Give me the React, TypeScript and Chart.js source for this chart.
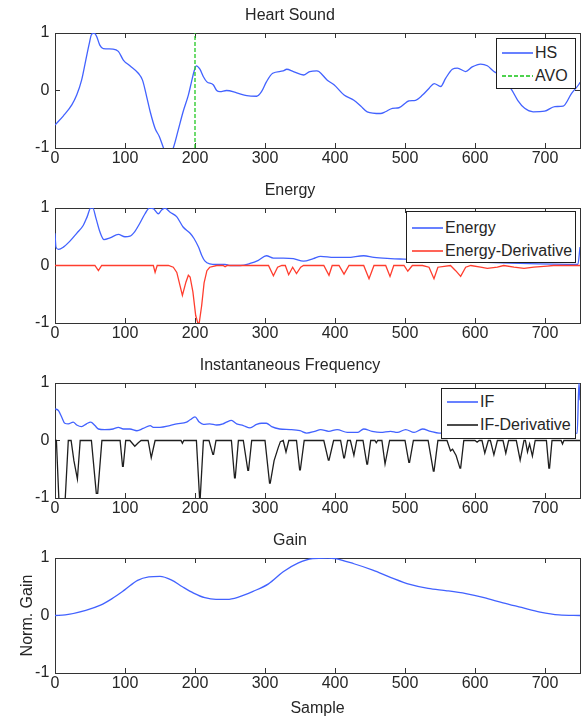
import React, { useEffect, useRef } from "react";
import { Chart, registerables } from "chart.js";

Chart.register(...registerables);

const FONT = "'Liberation Sans', Arial, Helvetica, sans-serif";
const TEXT = "#262626";
const AXIS = "#333333";
const BLUE = "#4262ff";
const RED = "#ff3d2e";
const GREEN = "#22c822";
const BLACK = "#1e1e1e";

Chart.defaults.font.family = FONT;
Chart.defaults.color = TEXT;

const xTickValues = [0, 100, 200, 300, 400, 500, 600, 700];
const yTickValues = [-1, 0, 1];
const xMin = 0;
const xMax = 750;
const yMin = -1;
const yMax = 1;

const panelTitles = ["Heart Sound", "Energy", "Instantaneous Frequency", "Gain"];
const seriesLabels = ["HS", "AVO", "Energy", "Energy-Derivative", "IF", "IF-Derivative", "Gain"];
const xAxisTitle = "Sample";
const yAxisTitle = "Norm. Gain";

const hsPoints: number[][] = [
  [0, -0.6], [12, -0.44], [24, -0.25], [31, -0.08], [38, 0.18], [44, 0.53], [49, 0.82], [52, 0.97],
  [56, 1.0], [59.5, 0.94], [64, 0.79], [69, 0.73], [83, 0.72], [90.5, 0.68], [97.6, 0.53], [107, 0.43],
  [119, 0.3], [125, 0.18], [131, -0.11], [136, -0.37], [143, -0.66], [149, -0.8], [155, -1.0],
  [158, -1.08], [162, -1.12], [166, -1.08], [169, -1.0], [176, -0.69], [183, -0.37], [190.5, -0.08],
  [195, 0.15], [198.6, 0.33], [202, 0.43], [207, 0.37], [212, 0.24], [217, 0.15], [226, 0.1],
  [231, 0.0], [235.7, -0.02], [245, 0.0], [259.5, -0.04], [274, -0.09], [288, -0.1], [295, -0.02],
  [302, 0.15], [311, 0.3], [326, 0.34], [331, 0.37], [340.5, 0.33], [355, 0.27], [364, 0.33],
  [374, 0.34], [377, 0.33], [389, 0.18], [398.6, 0.1], [413, -0.08], [427, -0.17], [436.7, -0.27],
  [446, -0.37], [465, -0.4], [472, -0.37], [482, -0.31], [491.4, -0.3], [505.7, -0.18], [515, -0.17],
  [525, -0.08], [534.5, 0.04], [541.7, 0.12], [551, 0.07], [558, 0.21], [567.6, 0.37], [574.8, 0.39],
  [586.6, 0.33], [596, 0.41], [608, 0.46], [617.6, 0.43], [627, 0.33], [635, 0.27], [645, 0.12],
  [652, 0.02], [661, -0.17], [671, -0.31], [683, -0.37], [699.5, -0.36], [714, -0.28], [726, -0.27],
  [738, -0.05], [748, 0.1], [750, 0.14],
];

const avoPoints: number[][] = [
  [200, -1], [200, 1],
];

const energyPoints: number[][] = [
  [0, 0.56], [1.4, 0.32], [5, 0.28], [12, 0.32], [21, 0.42], [31, 0.56], [40.5, 0.7], [46, 0.85],
  [51, 1.0], [54, 1.0], [58.6, 0.82], [64, 0.59], [70, 0.45], [78.6, 0.48], [90.5, 0.54], [100, 0.5],
  [107, 0.51], [114, 0.59], [121, 0.73], [128.6, 0.9], [134.8, 1.0], [140.5, 0.99], [147.6, 0.9],
  [152, 0.96], [157, 1.0], [164, 0.93], [173.8, 0.85], [183, 0.67], [193, 0.56], [198.6, 0.47],
  [205, 0.32], [209.5, 0.18], [214, 0.08], [221, 0.03], [231, 0.02], [243, 0.02], [250, 0.0],
  [265, 0.0], [278.6, 0.035], [290.5, 0.09], [302, 0.17], [312, 0.13], [326, 0.13], [340.5, 0.12],
  [355, 0.075], [369, 0.12], [379.5, 0.16], [398.6, 0.14], [417.6, 0.14], [441, 0.17], [455.7, 0.14],
  [479.5, 0.12], [498.6, 0.11], [560, 0.08], [650, 0.04], [740, 0.02], [747, 0.02], [750, 0.32],
];

const energyDerivPoints: number[][] = [
  [0, 0], [57, 0], [62, -0.09], [66.7, 0], [140.5, 0], [143, -0.12], [146, 0], [162, 0], [169, -0.03],
  [174, -0.12], [178.6, -0.35], [182, -0.52], [187, -0.29], [190.5, -0.17], [193, -0.2], [197, -0.46],
  [201, -0.87], [204, -1.0], [206, -1.0], [209.5, -0.7], [213, -0.3], [217, -0.09], [221, -0.03],
  [231, 0], [240, 0], [243, -0.02], [246, 0], [305, 0], [312, -0.18], [318, -0.03], [324, 0], [329, 0],
  [333.8, -0.16], [339.5, -0.03], [345, -0.14], [351, -0.03], [355, 0], [384, 0], [391.4, -0.17],
  [396, 0], [405.7, 0], [412.9, -0.15], [420, 0], [441, 0], [448.6, -0.23], [455.7, 0], [472.4, 0],
  [478.6, -0.19], [484, 0], [498.6, 0], [504, -0.1], [510.5, 0], [525, 0], [534.3, -0.03],
  [541.4, -0.23], [547, -0.03], [565, 0], [572.4, -0.09], [579.5, -0.19], [586.7, -0.03], [594, 0],
  [608, -0.03], [617.6, -0.05], [631.9, -0.03], [641, 0], [655.7, -0.03], [670, -0.05], [684, -0.03],
  [703, -0.01], [712, 0], [750, 0],
];

const ifPoints: number[][] = [
  [0, 0.55], [5, 0.52], [9.5, 0.41], [14, 0.3], [19, 0.29], [26, 0.32], [31, 0.27], [38, 0.24],
  [45, 0.29], [51, 0.32], [57, 0.26], [62, 0.2], [71, 0.19], [83, 0.2], [90.5, 0.23], [97.6, 0.2],
  [107, 0.2], [117, 0.17], [126, 0.21], [136, 0.26], [140.5, 0.23], [150, 0.23], [164, 0.26],
  [174, 0.29], [188, 0.32], [193, 0.36], [200, 0.41], [206, 0.32], [212, 0.28], [221, 0.29],
  [231, 0.27], [240, 0.29], [245, 0.32], [252, 0.35], [259.5, 0.29], [269, 0.26], [278.6, 0.22],
  [288, 0.28], [295, 0.3], [302, 0.3], [309.5, 0.24], [321, 0.2], [336, 0.19], [350, 0.17],
  [359.5, 0.13], [371, 0.16], [379.5, 0.19], [391, 0.16], [403, 0.19], [417.6, 0.14], [432, 0.14],
  [441, 0.2], [453, 0.16], [465, 0.14], [479.5, 0.16], [489, 0.14], [501, 0.19], [513, 0.14],
  [525, 0.2], [536.6, 0.16], [548.6, 0.13], [600, 0.13], [700, 0.12], [746, 0.13], [748.5, 1.0],
  [750, 0.7],
];

const ifDerivPoints: number[][] = [
  [0, 0], [2, 0], [6, -1.15], [10, -1.25], [14, -1.15], [19, 0], [23, 0], [27, -0.35], [32, -0.67],
  [36, 0], [52, 0], [59, -0.92], [61, -0.92], [67, 0], [93, 0], [96.5, -0.45], [97.5, -0.45], [101, 0],
  [107, 0], [114, -0.1], [119, -0.04], [123, 0], [133, 0], [137.5, -0.3], [138.5, -0.3], [143, 0],
  [180, 0], [182, -0.05], [184, 0], [202, 0], [207, -1.1], [212, 0], [220, 0], [225.5, -0.24],
  [226.5, -0.24], [230, 0], [252, 0], [256.5, -0.65], [257.5, -0.65], [262, 0], [269, 0],
  [275.5, -0.52], [276.5, -0.52], [281, 0], [300, 0], [306.5, -0.74], [307.5, -0.74], [313, -0.35],
  [319, -0.12], [322, -0.02], [326, 0], [330, -0.2], [334, 0], [345, 0], [349.5, -0.51], [350.5, -0.51],
  [356, 0], [384, 0], [390.5, -0.34], [391.5, -0.34], [398, 0], [408, 0], [412.5, -0.3], [413.5, -0.3],
  [418, 0], [422, 0], [427, -0.26], [431, 0], [440, 0], [445.5, -0.41], [446.5, -0.41], [451, 0],
  [457, 0], [459, -0.04], [461, 0], [467, 0], [471.5, -0.41], [472.5, -0.41], [478, 0], [500, 0],
  [505.5, -0.38], [506.5, -0.38], [512, 0], [533, 0], [540.5, -0.53], [541.5, -0.53], [547, 0],
  [560, 0], [565, -0.18], [568, -0.15], [573, -0.26], [578.5, -0.48], [579.5, -0.48], [584, 0],
  [600, 0], [603, -0.03], [606, 0], [610, 0], [614, -0.22], [619, 0], [622, 0], [627, -0.25],
  [632, 0], [640, 0], [644, -0.22], [648, 0], [659, 0], [664.5, -0.34], [665.5, -0.34], [670, 0],
  [672, 0], [675, -0.2], [678, -0.06], [682, -0.27], [686, 0], [702, 0], [705.5, -0.48],
  [706.5, -0.48], [710, 0], [723, 0], [725, -0.06], [727, 0], [750, 0],
];

const gainPoints: number[][] = [
  [0, 0], [14.6, 0.01], [44, 0.09], [65, 0.18], [81, 0.29], [100, 0.45], [118, 0.61], [134, 0.67],
  [150, 0.68], [166, 0.62], [182, 0.5], [198, 0.39], [214, 0.31], [230, 0.28], [246, 0.28], [262, 0.32],
  [283, 0.42], [305, 0.55], [326, 0.76], [347, 0.91], [368, 0.99], [390, 1.0], [400, 0.99], [427, 0.9],
  [454, 0.79], [480, 0.66], [507, 0.54], [533, 0.47], [560, 0.43], [587, 0.38], [613, 0.31], [640, 0.22],
  [666.5, 0.14], [693, 0.06], [720, 0.01], [750, 0],
];

type Series = { label: string; points: number[][]; color: string; dash?: number[]; smooth?: boolean };
type LegendSpec = { left: number; top: number; width: number; height: number; rows: number[] };
type PanelSpec = {
  title: string;
  top: number;
  height: number;
  axisHeight: number;
  series: Series[];
  legend: LegendSpec | null;
  xTitle?: string;
  yTitle?: string;
};

const panels: PanelSpec[] = [
  {
    title: panelTitles[0], top: 0, height: 175, axisHeight: 27,
    series: [
      { label: seriesLabels[0], points: hsPoints, color: BLUE, smooth: true },
      { label: seriesLabels[1], points: avoPoints, color: GREEN, dash: [4, 2] },
    ],
    legend: { left: 496, top: 38, width: 80, height: 51, rows: [14, 37] },
  },
  {
    title: panelTitles[1], top: 175, height: 175, axisHeight: 27,
    series: [
      { label: seriesLabels[2], points: energyPoints, color: BLUE, smooth: true },
      { label: seriesLabels[3], points: energyDerivPoints, color: RED },
    ],
    legend: { left: 406, top: 211, width: 170, height: 52, rows: [16, 39] },
  },
  {
    title: panelTitles[2], top: 350, height: 175, axisHeight: 27,
    series: [
      { label: seriesLabels[4], points: ifPoints, color: BLUE, smooth: true },
      { label: seriesLabels[5], points: ifDerivPoints, color: BLACK },
    ],
    legend: { left: 441, top: 388, width: 135, height: 51, rows: [13, 36] },
  },
  {
    title: panelTitles[3], top: 525, height: 194, axisHeight: 46,
    series: [{ label: seriesLabels[6], points: gainPoints, color: BLUE, smooth: true }],
    legend: null,
    xTitle: xAxisTitle,
    yTitle: yAxisTitle,
  },
];

const tickFont = { family: FONT, size: 16 };

function axisBase(tickVals: number[], min: number, max: number) {
  return {
    type: "linear" as const,
    min,
    max,
    bounds: "data" as const,
    afterBuildTicks: (s: any) => {
      s.ticks = tickVals.map((v) => ({ value: v }));
    },
    grid: { drawOnChartArea: false, drawTicks: true, tickLength: -5, color: AXIS, lineWidth: 1 },
    border: { display: true, color: AXIS, width: 1 },
  };
}

function PlotPanel({ panel }: { panel: PanelSpec }) {
  const ref = useRef<HTMLCanvasElement | null>(null);

  useEffect(() => {
    const canvas = ref.current;
    if (!canvas) return;
    const n = panel.series.length;
    const datasets = panel.series.map((s, i) => ({
      label: s.label,
      data: s.points.map(([x, y]) => ({ x, y })),
      borderColor: s.color,
      backgroundColor: s.color,
      borderWidth: 1.3,
      borderDash: s.dash || [],
      pointRadius: 0,
      pointHoverRadius: 0,
      fill: false,
      tension: 0,
      cubicInterpolationMode: s.smooth ? "monotone" : "default",
      xAxisID: "x",
      yAxisID: "y",
      order: n - i,
    }));

    const chart = new Chart(canvas, {
      type: "line",
      data: { datasets } as any,
      options: {
        responsive: false,
        animation: false,
        events: [],
        layout: { padding: { left: 0, right: 4, top: 0, bottom: 0 } },
        plugins: {
          legend: { display: false },
          tooltip: { enabled: false },
          title: {
            display: true,
            text: panel.title,
            color: TEXT,
            font: { family: FONT, size: 16, weight: "normal" },
            padding: { top: 6, bottom: 7.8 },
          },
        },
        scales: {
          x: {
            ...axisBase(xTickValues, xMin, xMax),
            position: "bottom",
            afterFit: (s: any) => {
              s.height = panel.axisHeight;
            },
            ticks: {
              padding: 6,
              color: TEXT,
              font: tickFont,
              autoSkip: false,
              maxRotation: 0,
              minRotation: 0,
              callback: (v: any) => String(v),
            },
            title: {
              display: !!panel.xTitle,
              text: panel.xTitle || "",
              color: TEXT,
              font: { family: FONT, size: 16 },
              padding: { top: 0, bottom: 0.4 },
            },
          },
          x2: {
            ...axisBase(xTickValues, xMin, xMax),
            position: "top",
            afterFit: (s: any) => {
              s.height = 0;
            },
            ticks: { display: false },
          },
          y: {
            ...axisBase(yTickValues, yMin, yMax),
            position: "left",
            afterFit: (s: any) => {
              s.width = 55;
            },
            ticks: {
              padding: 10.7,
              color: TEXT,
              font: tickFont,
              callback: (v: any) => String(v),
            },
            title: {
              display: !!panel.yTitle,
              text: panel.yTitle || "",
              color: TEXT,
              font: { family: FONT, size: 16 },
              padding: { top: 18.4, bottom: 0 },
            },
          },
          y2: {
            ...axisBase(yTickValues, yMin, yMax),
            position: "right",
            afterFit: (s: any) => {
              s.width = 0;
            },
            ticks: { display: false },
          },
        },
      } as any,
    });
    return () => chart.destroy();
  }, [panel]);

  return (
    <div style={{ position: "absolute", left: 0, top: panel.top, width: 584, height: panel.height }}>
      <canvas ref={ref} width={584} height={panel.height} style={{ display: "block" }} />
    </div>
  );
}

function LegendSample({ color, dash }: { color: string; dash?: number[] }) {
  const segs: React.ReactNode[] = [];
  if (!dash) {
    segs.push(
      <div key={0} style={{ position: "absolute", left: 0, top: 0, width: 31, height: 2, background: color }} />
    );
  } else {
    let x = 0;
    let k = 0;
    while (x < 31) {
      const w = Math.min(dash[0], 31 - x);
      segs.push(
        <div
          key={k++}
          style={{ position: "absolute", left: x, top: 0, width: w, height: 2, background: color }}
        />
      );
      x += dash[0] + dash[1];
    }
  }
  return (
    <div style={{ position: "absolute", left: 5, top: 9, width: 31, height: 2, opacity: 0.8 }}>{segs}</div>
  );
}

function LegendBox({ panel }: { panel: PanelSpec }) {
  const lg = panel.legend;
  if (!lg) return null;
  return (
    <div
      style={{
        position: "absolute",
        left: lg.left,
        top: lg.top,
        width: lg.width,
        height: lg.height,
        boxSizing: "border-box",
        border: "1px solid #1f1f1f",
        background: "#ffffff",
        fontFamily: FONT,
        fontSize: 16,
        color: TEXT,
      }}
    >
      {panel.series.map((s, i) => (
        <div
          key={s.label}
          style={{ position: "absolute", left: 0, top: lg.rows[i] - 10, height: 20, width: "100%" }}
        >
          <LegendSample color={s.color} dash={s.dash} />
          <span
            style={{
              position: "absolute",
              left: 38,
              top: 0,
              lineHeight: "20px",
              whiteSpace: "nowrap",
            }}
          >
            {s.label}
          </span>
        </div>
      ))}
    </div>
  );
}

export default function App() {
  return (
    <div
      style={{
        position: "absolute",
        left: 0,
        top: 0,
        width: 584,
        height: 719,
        background: "#ffffff",
        overflow: "hidden",
      }}
    >
      {panels.map((p) => (
        <PlotPanel key={p.title} panel={p} />
      ))}
      {panels.map((p) => (
        <LegendBox key={p.title + "-legend"} panel={p} />
      ))}
    </div>
  );
}
